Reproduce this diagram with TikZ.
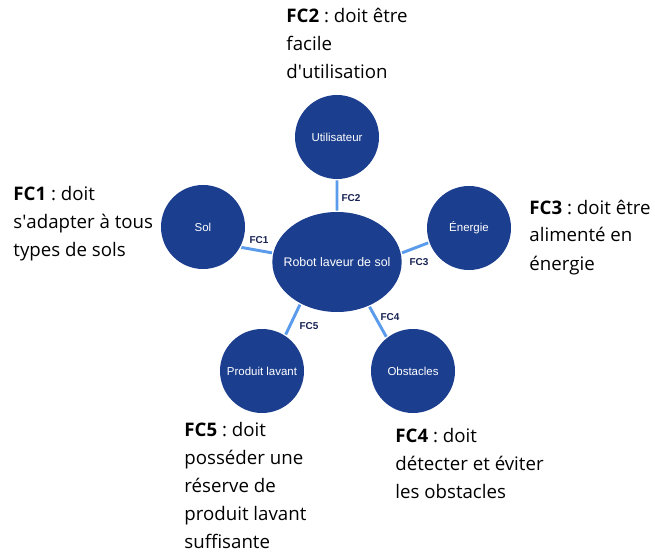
\documentclass[tikz,border=0pt]{standalone}
\usepackage{fontspec}
\setmainfont{Open Sans}
\newfontfamily\diagfont{Liberation Sans}
\usetikzlibrary{shapes.geometric}
\frenchspacing
\definecolor{navy}{RGB}{27,62,142}
\definecolor{liaison}{RGB}{90,155,235}
\definecolor{fcnavy}{RGB}{22,34,82}
\tikzstyle{acteur}=[circle,fill=navy,minimum size=63pt,inner sep=0pt,text=white,font=\diagfont\fontsize{8.6}{10}\selectfont]
\tikzstyle{fc}=[inner sep=0pt,text=fcnavy,font=\diagfont\bfseries\fontsize{7.5}{9}\selectfont]
\tikzstyle{bulle}=[anchor=base west,align=left,inner sep=0pt,font=\fontsize{14}{21}\selectfont]

\begin{document}
\begin{tikzpicture}[x=0.75pt,y=-0.75pt,every path/.style={line width=2.2pt}]
            \useasboundingbox (0,0) rectangle (655,559);
            % le robot et son milieu
            \node[ellipse,fill=navy,minimum width=97pt,minimum height=75pt,inner sep=0pt,
                text=white,font=\diagfont\fontsize{9.3}{11}\selectfont] (robot) at (337,262) {\makebox[0pt]{Robot laveur de sol}};
            \node[acteur] (util) at (337,137) {Utilisateur};
            \node[acteur] (sol) at (203,227) {Sol};
            \node[acteur] (energie) at (469,228) {Énergie};
            \node[acteur] (produit) at (262,371) {Produit lavant};
            \node[acteur] (obst) at (413,371) {Obstacles};
            \draw[liaison]
                (robot) -- (util)
                (robot.172) -- (sol.-28)
                (robot.8) -- (energie.200)
                (robot.229) -- (produit.57)
                (robot.-54) -- (obst.128)
                ;
            \node[fc] (fc1) at (259,240) {FC1};
            \node[fc] (fc2) at (351,198) {FC2};
            \node[fc] (fc3) at (419,262) {FC3};
            \node[fc] (fc4) at (390,317) {FC4};
            \node[fc] (fc5) at (309,326) {FC5};
            % les fonctions contraintes (placees par la derniere ligne)
            \node[bulle] (txt2) at (285,79) {\textbf{FC2} : doit être\\facile\\d\textquotesingle utilisation};
            \node[bulle] (txt1) at (12,257) {\textbf{FC1} : doit\\s\textquotesingle adapter à tous\\types de sols};
            \node[bulle] (txt3) at (528,270) {\textbf{FC3} : doit être\\alimenté en\\énergie};
            \node[bulle] (txt5) at (183,548) {\textbf{FC5} : doit\\posséder une\\réserve de\\produit lavant\\suffisante};
            \node[bulle] (txt4) at (394,498) {\textbf{FC4} : doit\\détecter et éviter\\les obstacles};
        \end{tikzpicture}
\end{document}
